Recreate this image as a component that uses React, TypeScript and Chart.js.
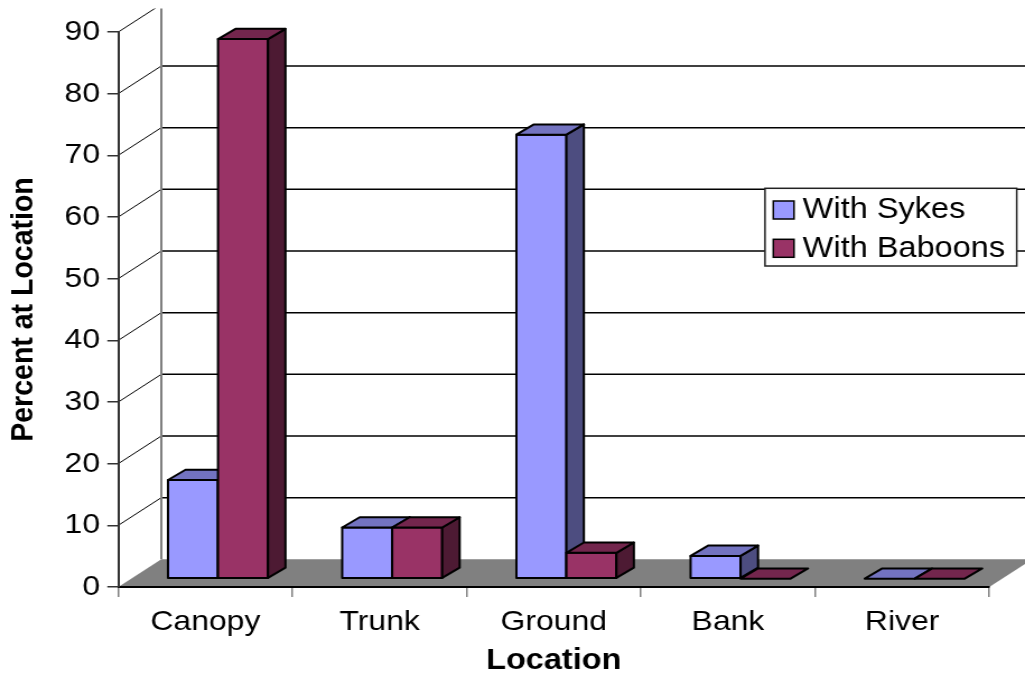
import { useEffect, useRef } from 'react';
import { Chart, registerables } from 'chart.js';

Chart.register(...registerables);

// ---- data ----
const categories = ['Canopy', 'Trunk', 'Ground', 'Bank', 'River'];
const seriesLabels = ['With Sykes', 'With Baboons'];
const sykesValues = [16, 8.3, 72, 3.7, 0];
const baboonValues = [87.5, 8.3, 4.2, 0, 0];
const yMin = 0;
const yMax = 90;
const yStep = 10;

// ---- drawing constants ----
const OUT_W = 1025;
const OUT_H = 677;
const H_STRETCH = 1.12; // the whole drawing is widened horizontally
const W = Math.round(OUT_W / H_STRETCH);
const H = OUT_H;

const FONT = "'Liberation Sans', Arial, Helvetica, sans-serif";

const FLOOR_DX = 38.4;
const FLOOR_DY = -27.7;
const BAR_SHIFT_X = 11.25;
const BAR_SHIFT_Y = -8.3;
const BAR_DEPTH_X = 15.6;
const BAR_DEPTH_Y = -10.3;

const faceColors = [
  { front: '#9999FF', top: '#7373C0', side: '#4D4D80' },
  { front: '#993366', top: '#73264D', side: '#4D1A33' },
];

function poly(ctx: CanvasRenderingContext2D, pts: number[][], fill: string) {
  ctx.beginPath();
  ctx.moveTo(pts[0][0], pts[0][1]);
  for (let i = 1; i < pts.length; i++) ctx.lineTo(pts[i][0], pts[i][1]);
  ctx.closePath();
  ctx.fillStyle = fill;
  ctx.fill();
  ctx.stroke();
}

const depthPlugin = {
  id: 'depth3d',
  beforeDraw(chart: any) {
    const { ctx, chartArea: a } = chart;
    const y = chart.scales.y;
    ctx.save();
    // floor
    ctx.fillStyle = '#808080';
    ctx.beginPath();
    ctx.moveTo(a.left, a.bottom);
    ctx.lineTo(a.left + FLOOR_DX, a.bottom + FLOOR_DY);
    ctx.lineTo(a.right + FLOOR_DX, a.bottom + FLOOR_DY);
    ctx.lineTo(a.right, a.bottom);
    ctx.closePath();
    ctx.fill();

    ctx.beginPath();
    ctx.rect(0, 8.5, chart.width, chart.height);
    ctx.clip();

    // side-wall diagonals and back-wall gridlines
    for (let v = yMin + yStep; v <= yMax; v += yStep) {
      const py = y.getPixelForValue(v);
      ctx.strokeStyle = '#000';
      ctx.lineWidth = 1;
      ctx.beginPath();
      ctx.moveTo(a.left, py);
      ctx.lineTo(a.left + FLOOR_DX, py + FLOOR_DY);
      ctx.stroke();
      if (v < yMax) {
        ctx.lineWidth = 1.5;
        ctx.beginPath();
        ctx.moveTo(a.left + FLOOR_DX, py + FLOOR_DY);
        ctx.lineTo(chart.width, py + FLOOR_DY);
        ctx.stroke();
      }
    }
    // back wall left edge
    ctx.strokeStyle = '#808080';
    ctx.lineWidth = 2;
    ctx.beginPath();
    ctx.moveTo(a.left + FLOOR_DX, a.bottom + FLOOR_DY);
    ctx.lineTo(a.left + FLOOR_DX, 0);
    ctx.stroke();
    ctx.restore();
  },
  beforeDatasetsDraw(chart: any) {
    chart.ctx.save();
    chart.ctx.translate(BAR_SHIFT_X, BAR_SHIFT_Y);
  },
  afterDatasetsDraw(chart: any) {
    const ctx: CanvasRenderingContext2D = chart.ctx;
    const metas = chart.data.datasets.map((_: any, i: number) => chart.getDatasetMeta(i));
    ctx.strokeStyle = '#000';
    ctx.lineWidth = 2;
    ctx.lineJoin = 'round';
    for (let j = 0; j < categories.length; j++) {
      metas.forEach((meta: any, di: number) => {
        const bar = meta.data[j];
        if (!bar) return;
        const { x, y, base, width } = bar.getProps(['x', 'y', 'base', 'width'], true);
        const l = x - width / 2;
        const r = x + width / 2;
        const c = faceColors[di];
        const dx = BAR_DEPTH_X;
        const dy = BAR_DEPTH_Y;
        if (base - y > 0.5) {
          poly(ctx, [[l, y], [r, y], [r, base], [l, base]], c.front);
          poly(ctx, [[r, y], [r + dx, y + dy], [r + dx, base + dy], [r, base]], c.side);
        }
        poly(ctx, [[l, y], [l + dx, y + dy], [r + dx, y + dy], [r, y]], c.top);
      });
    }
    ctx.restore();
  },
  afterDraw(chart: any) {
    const ctx: CanvasRenderingContext2D = chart.ctx;
    ctx.save();
    const bx = 682.9;
    const by = 188.3;
    const bw = 224.7;
    const bh = 77.7;
    ctx.fillStyle = '#fff';
    ctx.fillRect(bx, by, bw, bh);
    ctx.strokeStyle = '#222';
    ctx.lineWidth = 1.5;
    ctx.strokeRect(bx, by, bw, bh);
    ctx.font = `29px ${FONT}`;
    ctx.textBaseline = 'middle';
    ctx.textAlign = 'left';
    chart.data.datasets.forEach((ds: any, i: number) => {
      const rowY = 210.2 + i * 38.3;
      const sy = 201 + i * 38.3;
      ctx.fillStyle = ds.backgroundColor;
      ctx.fillRect(690.3, sy, 18.5, 18);
      ctx.strokeStyle = '#000';
      ctx.lineWidth = 1.5;
      ctx.strokeRect(690.3, sy, 18.5, 18);
      ctx.fillStyle = '#000';
      ctx.fillText(ds.label, 716.6, rowY);
    });
    ctx.restore();
  },
};

export default function App() {
  const ref = useRef<HTMLCanvasElement | null>(null);

  useEffect(() => {
    if (!ref.current) return;
    const chart = new Chart(ref.current, {
      type: 'bar',
      data: {
        labels: categories,
        datasets: [
          {
            label: seriesLabels[0],
            data: sykesValues,
            backgroundColor: faceColors[0].front,
            borderColor: '#000',
            borderWidth: 2,
            clip: false as any,
          },
          {
            label: seriesLabels[1],
            data: baboonValues,
            backgroundColor: faceColors[1].front,
            borderColor: '#000',
            borderWidth: 2,
            clip: false as any,
          },
        ],
      },
      options: {
        responsive: false,
        animation: false,
        layout: { padding: { left: 0, top: 32, right: W - 883.1, bottom: 0 } },
        datasets: { bar: { categoryPercentage: 0.574, barPercentage: 1 } },
        plugins: {
          legend: { display: false },
          tooltip: { enabled: false },
        },
        scales: {
          x: {
            grid: {
              display: true,
              drawOnChartArea: false,
              drawTicks: true,
              tickLength: 10,
              color: '#808080',
              lineWidth: 1.5,
            },
            border: { display: true, color: '#000', width: 2 },
            ticks: { color: '#000', font: { family: FONT, size: 28.5 }, padding: 8, maxRotation: 0 },
            title: {
              display: true,
              text: 'Location',
              color: '#000',
              font: { family: FONT, size: 29, weight: 'bold', lineHeight: 1.1 },
              padding: { top: 0, bottom: 0 },
            },
            afterFit(scale: any) {
              scale.height = H - 587;
            },
          },
          y: {
            min: yMin,
            max: yMax,
            grid: {
              display: true,
              drawOnChartArea: false,
              drawTicks: true,
              tickLength: 9.8,
              color: '#333',
              lineWidth: 1.5,
            },
            border: { display: true, color: '#333', width: 2 },
            ticks: { stepSize: yStep, color: '#000', font: { family: FONT, size: 28.5 }, padding: 6.5 },
            title: {
              display: true,
              text: 'Percent at Location',
              color: '#000',
              font: { family: FONT, size: 28.5, weight: 'bold' },
              padding: { top: 4, bottom: 0 },
            },
            afterFit(scale: any) {
              scale.width = 105.6;
            },
          },
        },
      },
      plugins: [depthPlugin],
    });
    return () => chart.destroy();
  }, []);

  return (
    <div
      style={{
        position: 'absolute',
        left: 0,
        top: 0,
        width: OUT_W,
        height: OUT_H,
        overflow: 'hidden',
        background: '#fff',
      }}
    >
      <div style={{ width: W, height: H, transform: `scaleX(${OUT_W / W})`, transformOrigin: '0 0' }}>
        <canvas ref={ref} width={W} height={H} />
      </div>
    </div>
  );
}
